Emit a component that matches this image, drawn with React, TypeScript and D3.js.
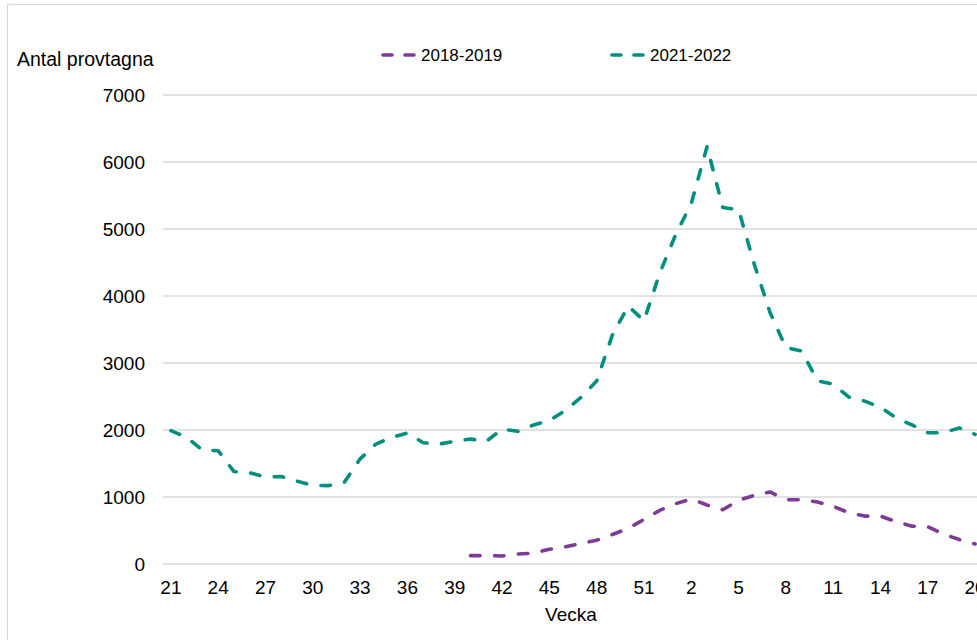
import React from "react";
import * as d3 from "d3";

const weeks: string[] = [
  "21","22","23","24","25","26","27","28","29","30","31","32","33","34","35","36",
  "37","38","39","40","41","42","43","44","45","46","47","48","49","50","51","52",
  "1","2","3","4","5","6","7","8","9","10","11","12","13","14","15","16","17","18","19","20",
];

const season2021: (number | null)[] = [
  1990, 1890, 1700, 1690, 1380, 1360, 1300, 1305, 1235, 1175, 1170, 1220, 1570, 1790, 1890, 1955,
  1810, 1790, 1830, 1865, 1830, 2015, 1980, 2075, 2140, 2290, 2485, 2730, 3420, 3850, 3630, 4340,
  4910, 5380, 6230, 5320, 5290, 4470, 3750, 3230, 3180, 2735, 2685, 2490, 2430, 2340, 2180, 2075,
  1960, 1960, 2030, 1935,
];

const season2018: (number | null)[] = [
  null, null, null, null, null, null, null, null, null, null, null, null, null, null, null, null,
  null, null, null, 125, 125, 120, 150, 160, 220, 255, 305, 355, 440, 530, 665, 800,
  900, 970, 880, 810, 950, 1025, 1075, 960, 960, 925, 860, 765, 715, 715, 630, 565,
  555, 445, 365, 300,
];

const yTicks: number[] = [0, 1000, 2000, 3000, 4000, 5000, 6000, 7000];
const seriesNames: string[] = ["2018-2019", "2021-2022"];

const PURPLE = "#7e3b96";
const GREEN = "#008f7f";
const FONT = "'Liberation Sans', Arial, sans-serif";

export default function App() {
  const W = 977;
  const H = 640;
  const left = 163;
  const right = 983;
  const top = 95;
  const bottom = 564;

  const x = d3.scaleBand<string>().domain(weeks).range([left, right]).padding(0);
  const cx = (w: string) => (x(w) as number) + x.bandwidth() / 2;
  const y = d3.scaleLinear().domain([0, 7000]).range([bottom, top]);

  const line = d3
    .line<number | null>()
    .defined((d) => d != null)
    .x((_, i) => cx(weeks[i]))
    .y((d) => y(d as number));

  const dash = "9.5 14.5";
  const sw = 3.6;

  return (
    <svg
      width={W}
      height={H}
      style={{ position: "fixed", left: 0, top: 0, background: "#fff" }}
      fontFamily={FONT}
    >
      <rect x={7.5} y={4.5} width={1000} height={700} fill="#fff" stroke="#d9d9d9" strokeWidth={1.2} />
      {yTicks.map((t) => (
        <g key={t}>
          <line x1={left} x2={right} y1={y(t)} y2={y(t)} stroke="#d9d9d9" strokeWidth={1.5} />
          <text x={145} y={y(t)} dy="0.35em" textAnchor="end" fontSize={19} fill="#000">
            {t}
          </text>
        </g>
      ))}
      {weeks.map((w, i) =>
        i % 3 === 0 ? (
          <text key={w} x={cx(w)} y={594} textAnchor="middle" fontSize={19} fill="#000">
            {w}
          </text>
        ) : null
      )}
      <text x={571} y={621} textAnchor="middle" fontSize={19} fill="#000">
        Vecka
      </text>
      <text x={17} y={66} fontSize={19.5} fill="#000">
        Antal provtagna
      </text>

      <path
        d={line(season2018) || ""}
        fill="none"
        stroke={PURPLE}
        strokeWidth={sw}
        strokeDasharray={dash}
        strokeLinecap="round"
        strokeLinejoin="round"
      />
      <path
        d={line(season2021) || ""}
        fill="none"
        stroke={GREEN}
        strokeWidth={sw}
        strokeDasharray={dash}
        strokeLinecap="round"
        strokeLinejoin="round"
      />

      {seriesNames.map((name, i) => {
        const lx = i === 0 ? 381 : 610;
        const color = i === 0 ? PURPLE : GREEN;
        return (
          <g key={name}>
            <line
              x1={lx + 2}
              x2={lx + 33}
              y1={55}
              y2={55}
              stroke={color}
              strokeWidth={sw}
              strokeDasharray="9 13"
              strokeLinecap="round"
            />
            <text x={lx + 40} y={61} fontSize={17} fill="#000">
              {name}
            </text>
          </g>
        );
      })}
    </svg>
  );
}
